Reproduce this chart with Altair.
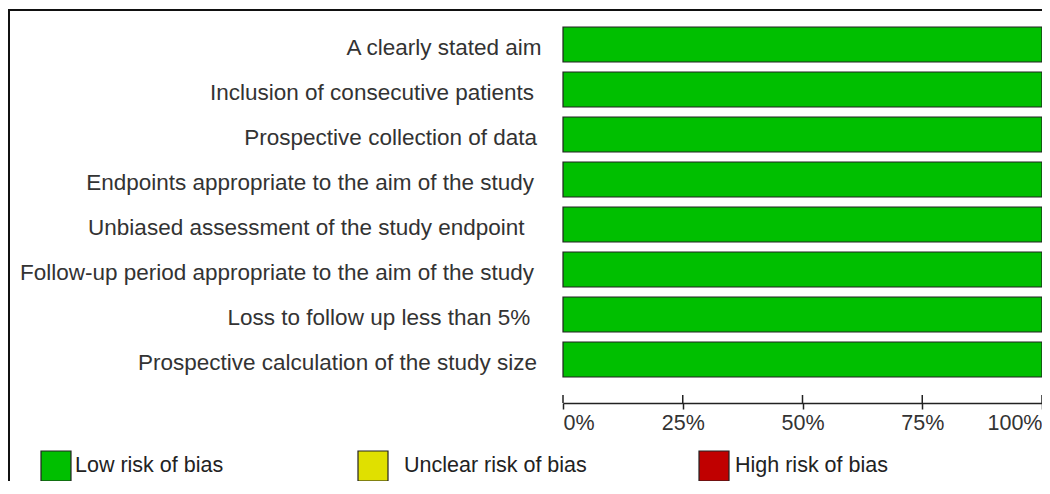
import altair as alt
import pandas as pd

ZW = "\u200b"  # keeps the trailing spaces from being trimmed
items = [
    "A clearly stated aim",
    "Inclusion of consecutive patients\u2004" + ZW,
    "Prospective collection of data\u2009" + ZW,
    "Endpoints appropriate to the aim of the study\u2004" + ZW,
    "Unbiased assessment of the study endpoint\u2002\u2005" + ZW,
    "Follow-up period appropriate to the aim of the study\u2004" + ZW,
    "Loss to follow up less than 5%\u2002" + ZW,
    "Prospective calculation of the study size\u2009" + ZW,
]
low = [100, 100, 100, 100, 100, 100, 100, 100]
unclear = [0, 0, 0, 0, 0, 0, 0, 0]
high = [0, 0, 0, 0, 0, 0, 0, 0]
categories = ["Low risk of bias", "Unclear risk of bias", "High risk of bias"]
colors = ["#00BF00", "#E0E000", "#C00000"]
tick_values = [0, 25, 50, 75, 100]

rows = []
for i, item in enumerate(items):
    start = 0
    for cat, vals in zip(categories, [low, unclear, high]):
        v = vals[i]
        rows.append({"item": item, "category": cat, "value": v, "start": start, "end": start + v})
        start += v
df = pd.DataFrame(rows)

W, H = 479, 350
OFF = 26
FONT = "Liberation Sans"

xscale = alt.Scale(domain=[0, 100], nice=False)
yscale = alt.Scale(paddingInner=10 / 45, paddingOuter=0)

xaxis = alt.Axis(values=tick_values, labelExpr="datum.value + '%'", labelFlush=True,
                 domainColor="#222", domainWidth=1.5, tickColor="#222", tickWidth=1.5,
                 tickSize=6, labelPadding=3, labelFontSize=21.5, labelColor="#333",
                 labelFont=FONT, grid=False, offset=OFF, title=None)
yaxis = alt.Axis(domain=False, ticks=False, labelPadding=22, labelFontSize=22.5,
                 labelColor="#333", labelFont=FONT, labelLimit=0, labelOffset=3, title=None)

legend_pos = [(-523, 3), (-206, 15), (135, 5)]
LEGEND_Y = 423

layers = []
for k, (cat, col) in enumerate(zip(categories, colors)):
    lx, loff = legend_pos[k]
    layer = (
        alt.Chart(df)
        .transform_filter((alt.datum.category == cat) & (alt.datum.value > 0))
        .mark_bar(stroke="#222", strokeWidth=1.2)
        .encode(
            y=alt.Y("item:N", sort=items, scale=yscale, axis=yaxis),
            x=alt.X("start:Q", scale=xscale, axis=xaxis),
            x2="end:Q",
            color=alt.Color(
                "category:N",
                scale=alt.Scale(domain=[cat], range=[col]),
                legend=alt.Legend(
                    orient="none", legendX=lx, legendY=LEGEND_Y, title=None, padding=0,
                    symbolType="square", symbolSize=900, symbolStrokeColor="#222",
                    symbolStrokeWidth=1.2, symbolOpacity=1, labelFontSize=21.5,
                    labelColor="#222", labelFont=FONT, labelOffset=loff, labelLimit=0,
                ),
            ),
        )
    )
    layers.append(layer)

tick_df = pd.DataFrame({"t": tick_values})
ticks_up = (
    alt.Chart(tick_df)
    .mark_rule(color="#222", strokeWidth=1.5)
    .encode(x=alt.X("t:Q", scale=xscale, axis=xaxis), y=alt.value(H + OFF - 8), y2=alt.value(H + OFF))
)

frame = (
    alt.Chart(pd.DataFrame({"f": [0]}))
    .mark_rect(fillOpacity=0, stroke="#111", strokeWidth=2)
    .encode(x=alt.value(-554), x2=alt.value(W + 30), y=alt.value(-17), y2=alt.value(H + 200))
)

chart = (
    alt.layer(frame, *layers, ticks_up)
    .resolve_scale(color="independent")
    .properties(
        width=W, height=H,
        autosize=alt.AutoSizeParams(type="none"),
        padding={"left": 555, "top": 19, "right": 0, "bottom": 104},
        background="white",
    )
    .configure_view(stroke=None)
)

chart.save("out.html", embed_options={"renderer": "svg", "actions": False})
